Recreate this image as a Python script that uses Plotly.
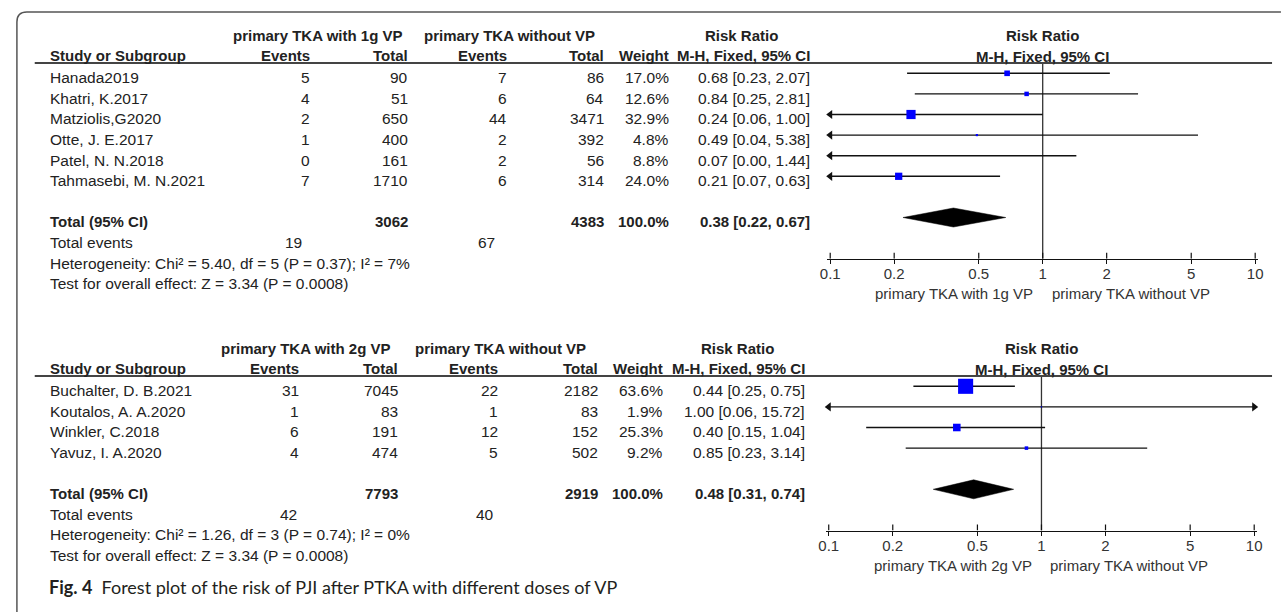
import plotly.graph_objects as go

W, H = 1281, 612
FONT = "Liberation Sans, Arial, sans-serif"
TXT = "#222222"

# ---------------- data: panel 1 (1g VP) ----------------
studies_1 = ["Hanada2019", "Khatri, K.2017", "Matziolis,G2020", "Otte, J. E.2017",
             "Patel, N. N.2018", "Tahmasebi, M. N.2021"]
events_vp_1 = [5, 4, 2, 1, 0, 7]
total_vp_1 = [90, 51, 650, 400, 161, 1710]
events_ctl_1 = [7, 6, 44, 2, 2, 6]
total_ctl_1 = [86, 64, 3471, 392, 56, 314]
weight_1 = [17.0, 12.6, 32.9, 4.8, 8.8, 24.0]
rr_1 = [0.68, 0.84, 0.24, 0.49, 0.07, 0.21]
lo_1 = [0.23, 0.25, 0.06, 0.04, 0.00, 0.07]
hi_1 = [2.07, 2.81, 1.00, 5.38, 1.44, 0.63]
pooled_1 = [0.38, 0.22, 0.67]
sums_1 = [19, 3062, 67, 4383, 100.0]     # events VP, total VP, events ctl, total ctl, weight
het_1 = "Heterogeneity: Chi² = 5.40, df = 5 (P = 0.37); I² = 7%"
eff_1 = "Test for overall effect: Z = 3.34 (P = 0.0008)"
grp_vp_1 = "primary TKA with 1g VP"

# ---------------- data: panel 2 (2g VP) ----------------
studies_2 = ["Buchalter, D. B.2021", "Koutalos, A. A.2020", "Winkler, C.2018", "Yavuz, I. A.2020"]
events_vp_2 = [31, 1, 6, 4]
total_vp_2 = [7045, 83, 191, 474]
events_ctl_2 = [22, 1, 12, 5]
total_ctl_2 = [2182, 83, 152, 502]
weight_2 = [63.6, 1.9, 25.3, 9.2]
rr_2 = [0.44, 1.00, 0.40, 0.85]
lo_2 = [0.25, 0.06, 0.15, 0.23]
hi_2 = [0.75, 15.72, 1.04, 3.14]
pooled_2 = [0.48, 0.31, 0.74]
sums_2 = [42, 7793, 40, 2919, 100.0]
het_2 = "Heterogeneity: Chi² = 1.26, df = 3 (P = 0.74); I² = 0%"
eff_2 = "Test for overall effect: Z = 3.34 (P = 0.0008)"
grp_vp_2 = "primary TKA with 2g VP"

grp_ctl = "primary TKA without VP"
tick_vals = [0.1, 0.2, 0.5, 1, 2, 5, 10]
tick_text = ["0.1", "0.2", "0.5", "1", "2", "5", "10"]
caption_bold = "Fig. 4"
caption = "Forest plot of the risk of PJI after PTKA with different doses of VP"

# ---------------- layout positions (pixels) ----------------
P1 = dict(y0=73.3, dy=20.6, name=41, ev1=308, tot1=407, g1c=313, ev2=507, tot2=605,
          w=670, rr=813, rrh=741, mh=748, g2c=507, te1=300, te2=495, x01=831, x10=1260)
P2 = dict(y0=386.3, dy=20.6, name=41, ev1=297, tot1=397, g1c=301, ev2=498, tot2=599,
          w=664, rr=808, rrh=737, mh=742, g2c=498, te1=295, te2=494, x01=829.5, x10=1259)

annotations = []
shapes = []
fig = go.Figure()


def px(x):
    return x / W


def py(y):
    return 1 - y / H


def txt(x, y, s, anchor="left", bold=False, size=None, color=TXT, family=FONT):
    annotations.append(dict(
        x=px(x), y=py(y), xref="paper", yref="paper",
        text=f"<b>{s}</b>" if bold else s, showarrow=False,
        xanchor=anchor, yanchor="middle",
        font=dict(family=family, size=size or (15 if bold else 15.5), color=color)))


def hline(x0, x1, y, color="#444444", width=2):
    shapes.append(dict(type="line", xref="paper", yref="paper",
                       x0=px(x0), x1=px(x1), y0=py(y), y1=py(y),
                       line=dict(color=color, width=width)))


def panel(k, P, studies, ev_vp, tot_vp, ev_ctl, tot_ctl, weight, rr, lo, hi,
          pooled, sums, het, eff, grp_vp):
    n = len(studies)
    dy = P["dy"]
    toff = 4.4

    def ty(row):
        return P["y0"] + row * dy + toff

    # headers
    hy1 = ty(0) - 42.5
    hy2 = ty(0) - 22
    fc = P["x01"] + (P["x10"] - P["x01"]) / 2
    txt(P["g1c"], hy1, grp_vp, "center", bold=True)
    txt(P["g2c"], hy1, grp_ctl, "center", bold=True)
    txt(P["rrh"], hy1, "Risk Ratio", "center", bold=True)
    txt(fc, hy1, "Risk Ratio", "center", bold=True)
    txt(P["name"], hy2, "Study or Subgroup", "left", bold=True)
    txt(P["ev1"], hy2, "Events", "right", bold=True)
    txt(P["tot1"], hy2, "Total", "right", bold=True)
    txt(P["ev2"], hy2, "Events", "right", bold=True)
    txt(P["tot2"], hy2, "Total", "right", bold=True)
    txt(P["w"], hy2, "Weight", "right", bold=True)
    txt(P["rr"], hy2, "M-H, Fixed, 95% CI", "right", bold=True)
    txt(fc, hy2 + 1, "M-H, Fixed, 95% CI", "center", bold=True)
    hline(28, 1277, P["y0"] - 0.5 * dy)

    # study rows
    for i in range(n):
        y = ty(i)
        txt(P["name"], y, studies[i])
        txt(P["ev1"], y, str(ev_vp[i]), "right")
        txt(P["tot1"], y, str(tot_vp[i]), "right")
        txt(P["ev2"], y, str(ev_ctl[i]), "right")
        txt(P["tot2"], y, str(tot_ctl[i]), "right")
        txt(P["w"], y, f"{weight[i]:.1f}%", "right")
        txt(P["rr"], y, f"{rr[i]:.2f} [{lo[i]:.2f}, {hi[i]:.2f}]", "right")

    # totals
    rt = n + 1
    txt(P["name"], ty(rt), "Total (95% CI)", bold=True)
    txt(P["tot1"], ty(rt), str(sums[1]), "right", bold=True)
    txt(P["tot2"], ty(rt), str(sums[3]), "right", bold=True)
    txt(P["w"], ty(rt), f"{sums[4]:.1f}%", "right", bold=True)
    txt(P["rr"], ty(rt), f"{pooled[0]:.2f} [{pooled[1]:.2f}, {pooled[2]:.2f}]", "right", bold=True)
    txt(P["name"], ty(rt + 1), "Total events")
    txt(P["te1"], ty(rt + 1), str(sums[0]), "right")
    txt(P["te2"], ty(rt + 1), str(sums[2]), "right")
    txt(P["name"], ty(rt + 2), het)
    txt(P["name"], ty(rt + 3), eff)

    # ---- forest axes ----
    axis_row = n + 3
    decade = (P["x10"] - P["x01"]) / 2
    pad = 3
    xr = [-1 - pad / decade, 1 + pad / decade]
    top_px = P["y0"] - 0.5 * dy
    bot_px = P["y0"] + axis_row * dy
    xname = "x" if k == 1 else f"x{k}"
    yname = "y" if k == 1 else f"y{k}"
    xkey = "xaxis" if k == 1 else f"xaxis{k}"
    ykey = "yaxis" if k == 1 else f"yaxis{k}"
    fig.layout[xkey] = dict(
        type="log", range=xr, domain=[px(P["x01"] - pad), px(P["x10"] + pad)],
        anchor=yname, tickvals=tick_vals, ticktext=tick_text, ticks="outside",
        ticklen=4, tickwidth=1.2, tickcolor="#111", showline=True, linecolor="#111",
        linewidth=1.2, showgrid=False, zeroline=False, ticklabelstandoff=-3,
        tickfont=dict(family=FONT, size=15, color="#333"), fixedrange=True)
    fig.layout[ykey] = dict(
        range=[axis_row, -0.5], domain=[py(bot_px), py(top_px)], anchor=xname,
        visible=False, showgrid=False, zeroline=False, fixedrange=True)

    common = dict(xaxis=xname, yaxis=yname, showlegend=False, hoverinfo="skip")

    # line of no effect
    fig.add_trace(go.Scatter(x=[1, 1], y=[-0.5, axis_row], mode="lines",
                             line=dict(color="#333", width=1.3), **common))
    # upper half of tick marks (crossing ticks)
    tx, tyy = [], []
    for t in tick_vals:
        tx += [t, t, None]
        tyy += [axis_row, axis_row - 6 / dy, None]
    fig.add_trace(go.Scatter(x=tx, y=tyy, mode="lines",
                             line=dict(color="#111", width=1.2), **common))

    # CI lines
    cx, cy = [], []
    for i in range(n):
        cx += [max(lo[i], 0.1), min(hi[i], 10), None]
        cy += [i, i, None]
    fig.add_trace(go.Scatter(x=cx, y=cy, mode="lines", line=dict(color="#111", width=1.4),
                             **common))
    # arrows for clipped CIs
    la = [i for i in range(n) if lo[i] < 0.1]
    ra = [i for i in range(n) if hi[i] > 10]
    if la:
        fig.add_trace(go.Scatter(x=[0.1] * len(la), y=la, mode="markers", cliponaxis=False,
                                 marker=dict(symbol="triangle-left", size=8, color="#111",
                                             line=dict(width=0)), **common))
    if ra:
        fig.add_trace(go.Scatter(x=[10] * len(ra), y=ra, mode="markers", cliponaxis=False,
                                 marker=dict(symbol="triangle-right", size=8, color="#111",
                                             line=dict(width=0)), **common))
    # point estimates (box size from weight)
    vis = [i for i in range(n) if 0.1 <= rr[i] <= 10]
    fig.add_trace(go.Scatter(
        x=[rr[i] for i in vis], y=vis, mode="markers", cliponaxis=False,
        marker=dict(symbol="square", color="#0000ff", opacity=1,
                    size=[max(0.67 * weight[i] ** 0.75, 1.2) for i in vis],
                    line=dict(width=0)), **common))
    # pooled diamond
    h = 9.5 / dy
    fig.add_trace(go.Scatter(
        x=[pooled[1], pooled[0], pooled[2], pooled[0], pooled[1]],
        y=[rt, rt - h, rt, rt + h, rt], mode="lines", fill="toself",
        fillcolor="#000", line=dict(color="#000", width=0.5), **common))

    # labels under the axis
    sub_y = bot_px + 35
    x1px = P["x01"] + decade
    txt(x1px - 8, sub_y, grp_vp, "right", size=15, color="#333")
    txt(x1px + 7, sub_y, grp_ctl, "left", size=15, color="#333")


panel(1, P1, studies_1, events_vp_1, total_vp_1, events_ctl_1, total_ctl_1, weight_1,
      rr_1, lo_1, hi_1, pooled_1, sums_1, het_1, eff_1, grp_vp_1)
panel(2, P2, studies_2, events_vp_2, total_vp_2, events_ctl_2, total_ctl_2, weight_2,
      rr_2, lo_2, hi_2, pooled_2, sums_2, het_2, eff_2, grp_vp_2)

# caption
annotations.append(dict(
    x=px(40), y=py(587), xref="paper", yref="paper", showarrow=False,
    xanchor="left", yanchor="middle",
    text=f"<b>{caption_bold}</b>  {caption}",
    font=dict(family="Lato, sans-serif", size=18, color="#231f20")))

# frame (rounded top-left corner)
r = 10
path = (f"M {px(10)},{py(H + 5)} L {px(10)},{py(12 + r)} "
        f"Q {px(10)},{py(12)} {px(10 + r)},{py(12)} L {px(W + 5)},{py(12)}")
shapes.append(dict(type="path", xref="paper", yref="paper", path=path,
                   line=dict(color="#555", width=1.5)))

fig.update_layout(
    width=W, height=H, margin=dict(l=0, r=0, t=0, b=0),
    paper_bgcolor="white", plot_bgcolor="white",
    annotations=annotations, shapes=shapes, showlegend=False)

fig.write_html("out.html", config={"displayModeBar": False},
               post_script="document.body.style.margin='0';document.body.style.padding='0';")
